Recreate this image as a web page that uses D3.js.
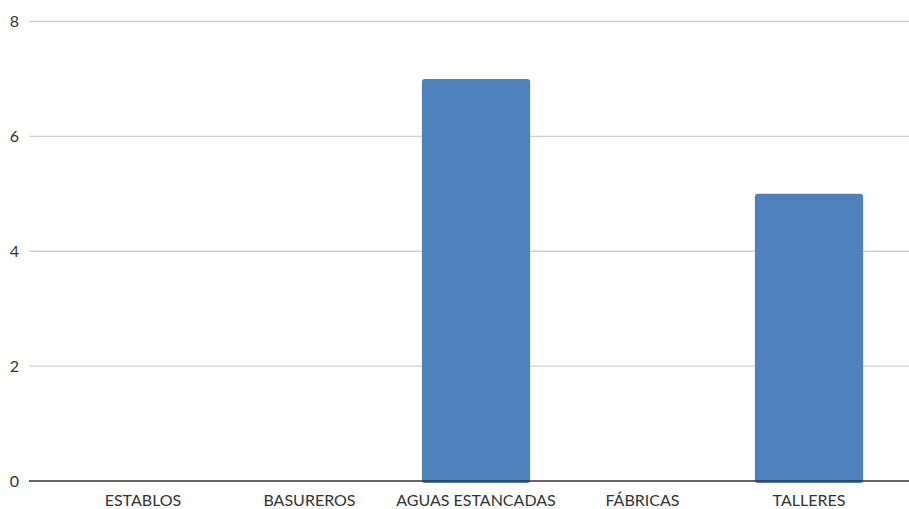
<!DOCTYPE html>
<html><head><meta charset="utf-8">
<script src="https://cdn.jsdelivr.net/npm/d3@7"></script>
<style>body{margin:0;background:#fff}svg{display:block}</style>
</head><body>
<script>
const categories = ["ESTABLOS","BASUREROS","AGUAS ESTANCADAS","FÁBRICAS","TALLERES"];
const values = [0, 0, 7, 0, 5];
const yTicks = [0, 2, 4, 6, 8];

const W = 909, H = 509;
const svg = d3.select("body").append("svg").attr("width", W).attr("height", H);
const font = "Lato, 'Noto Sans', sans-serif";

const x = d3.scaleBand().domain(categories).range([59.75, 892.25]).paddingInner(0.35).paddingOuter(0.175);
const y = d3.scaleLinear().domain([0, 8]).range([481, 21.5]);

// gridlines
svg.append("g").selectAll("line").data(yTicks.filter(d => d !== 0)).join("line")
  .attr("x1", 29).attr("x2", 909)
  .attr("y1", d => y(d)).attr("y2", d => y(d))
  .attr("stroke", "#d0d0d0").attr("stroke-width", 1.3);

// y labels
svg.append("g").selectAll("text").data(yTicks).join("text")
  .attr("x", 14.5).attr("y", d => y(d)).attr("dy", "0.35em")
  .attr("text-anchor", "middle").attr("font-family", font).attr("font-size", 16)
  .attr("fill", "#333").text(d => d);

// bars
svg.append("g").selectAll("rect").data(categories.map((c, i) => ({c, v: values[i]})).filter(d => d.v > 0)).join("rect")
  .attr("x", d => x(d.c)).attr("width", x.bandwidth())
  .attr("y", d => y(d.v)).attr("height", d => y(0) - y(d.v) + 2)
  .attr("rx", 3).attr("fill", "#4f81bd");

// baseline
svg.append("line").attr("x1", 29).attr("x2", 909).attr("y1", y(0)).attr("y2", y(0))
  .attr("stroke", "#333").attr("stroke-width", 1.3);

// x labels
svg.append("g").selectAll("text").data(categories).join("text")
  .attr("x", d => x(d) + x.bandwidth() / 2).attr("y", 506)
  .attr("text-anchor", "middle").attr("font-family", font).attr("font-size", 16)
  .attr("fill", "#333").text(d => d);
</script>
</body></html>
